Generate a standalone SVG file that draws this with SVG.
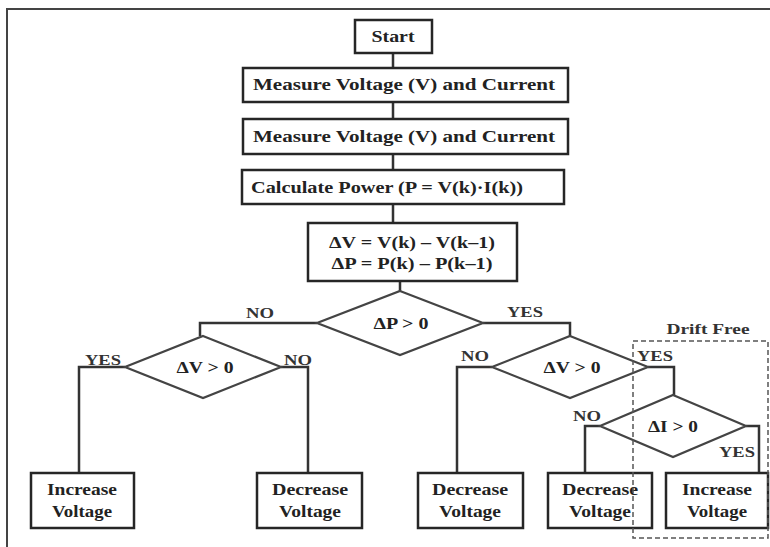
<svg xmlns="http://www.w3.org/2000/svg" width="770" height="547" viewBox="0 0 770 547">
<style>
.box{fill:#fff;stroke:#262626;stroke-width:2.5}
.dia{fill:#fff;stroke:#444;stroke-width:2.2}
.t{font-family:"Liberation Serif","Times New Roman",serif;font-weight:bold;font-size:16px;fill:#222;text-anchor:middle}
.lb{font-family:"Liberation Serif","Times New Roman",serif;font-weight:bold;font-size:15px;fill:#333;text-anchor:middle}
.c{fill:none;stroke:#333;stroke-width:2.5}
</style>
<rect width="770" height="547" fill="#fff"/>
<g id="frame"><path d="M7 547V9H770" fill="none" stroke="#444" stroke-width="2"/></g>
<g id="connectors">
<path class="c" d="M393 53V68M393 102V119M393 154V170M393 204V223M400 281V291"/>
<path class="c" d="M317 323H200V336"/>
<path class="c" d="M483 323H570V336"/>
<path class="c" d="M125 367H79V473"/>
<path class="c" d="M281 367H308V473"/>
<path class="c" d="M492 367H457V473"/>
<path class="c" d="M648 367H674V395"/>
<path class="c" d="M600 426H585V473"/>
<path class="c" d="M746 426H759V473"/>
</g>
<g id="start"><rect class="box" x="355" y="20" width="77" height="33"/><text class="t" x="393" y="42" textLength="43" lengthAdjust="spacingAndGlyphs">Start</text></g>
<g id="measure1"><rect class="box" x="243" y="68" width="325" height="34"/><text class="t" x="404" y="90" textLength="302" lengthAdjust="spacingAndGlyphs">Measure Voltage (V) and Current</text></g>
<g id="measure2"><rect class="box" x="243" y="119" width="325" height="35"/><text class="t" x="404" y="142" textLength="302" lengthAdjust="spacingAndGlyphs">Measure Voltage (V) and Current</text></g>
<g id="calc"><rect class="box" x="242" y="170" width="322" height="34"/><text class="t" x="387" y="193" textLength="272" lengthAdjust="spacingAndGlyphs">Calculate Power (P = V(k)·I(k))</text></g>
<g id="delta"><rect class="box" x="308" y="223" width="209" height="58"/>
<text class="t" x="412" y="248" textLength="166" lengthAdjust="spacingAndGlyphs">ΔV = V(k) – V(k–1)</text>
<text class="t" x="412" y="269" textLength="161" lengthAdjust="spacingAndGlyphs">ΔP = P(k) – P(k–1)</text></g>
<g id="dP"><polygon class="dia" points="400,291 483,323 400,355 317,323"/><text class="t" x="401" y="329" textLength="55" lengthAdjust="spacingAndGlyphs">ΔP &gt; 0</text></g>
<g id="dV1"><polygon class="dia" points="203,336 281,367 203,398 125,367"/><text class="t" x="205" y="373" textLength="57" lengthAdjust="spacingAndGlyphs">ΔV &gt; 0</text></g>
<g id="dV2"><polygon class="dia" points="570,336 648,367 570,398 492,367"/><text class="t" x="572" y="373" textLength="57" lengthAdjust="spacingAndGlyphs">ΔV &gt; 0</text></g>
<g id="dI"><polygon class="dia" points="673,395 746,426 673,457 600,426"/><text class="t" x="673" y="432" textLength="50" lengthAdjust="spacingAndGlyphs">ΔI &gt; 0</text></g>
<g id="labels">
<text class="lb" x="260" y="318" textLength="28" lengthAdjust="spacingAndGlyphs">NO</text>
<text class="lb" x="525" y="317" textLength="36" lengthAdjust="spacingAndGlyphs">YES</text>
<text class="lb" x="103" y="365" textLength="36" lengthAdjust="spacingAndGlyphs">YES</text>
<text class="lb" x="298" y="365" textLength="28" lengthAdjust="spacingAndGlyphs">NO</text>
<text class="lb" x="475" y="361" textLength="28" lengthAdjust="spacingAndGlyphs">NO</text>
<text class="lb" x="655" y="361" textLength="36" lengthAdjust="spacingAndGlyphs">YES</text>
<text class="lb" x="587" y="421" textLength="28" lengthAdjust="spacingAndGlyphs">NO</text>
<text class="lb" x="737" y="457" textLength="36" lengthAdjust="spacingAndGlyphs">YES</text>
</g>
<g id="inc1"><rect class="box" x="31" y="473" width="103" height="55"/><text class="t" x="82" y="495" textLength="70" lengthAdjust="spacingAndGlyphs">Increase</text><text class="t" x="82" y="517" textLength="60" lengthAdjust="spacingAndGlyphs">Voltage</text></g>
<g id="dec1"><rect class="box" x="257" y="473" width="105" height="55"/><text class="t" x="310" y="495" textLength="76" lengthAdjust="spacingAndGlyphs">Decrease</text><text class="t" x="310" y="517" textLength="62" lengthAdjust="spacingAndGlyphs">Voltage</text></g>
<g id="dec2"><rect class="box" x="418" y="473" width="105" height="55"/><text class="t" x="470" y="495" textLength="76" lengthAdjust="spacingAndGlyphs">Decrease</text><text class="t" x="470" y="517" textLength="62" lengthAdjust="spacingAndGlyphs">Voltage</text></g>
<g id="dec3"><rect class="box" x="548" y="473" width="104" height="55"/><text class="t" x="600" y="495" textLength="76" lengthAdjust="spacingAndGlyphs">Decrease</text><text class="t" x="600" y="517" textLength="62" lengthAdjust="spacingAndGlyphs">Voltage</text></g>
<g id="inc2"><rect class="box" x="666" y="473" width="102" height="55"/><text class="t" x="717" y="495" textLength="70" lengthAdjust="spacingAndGlyphs">Increase</text><text class="t" x="717" y="517" textLength="60" lengthAdjust="spacingAndGlyphs">Voltage</text></g>
<g id="driftfree">
<rect x="633" y="341" width="135" height="197" fill="none" stroke="#555" stroke-width="1.5" stroke-dasharray="5,3"/>
<text class="lb" x="708" y="334" textLength="83" lengthAdjust="spacingAndGlyphs">Drift Free</text>
</g>
</svg>
